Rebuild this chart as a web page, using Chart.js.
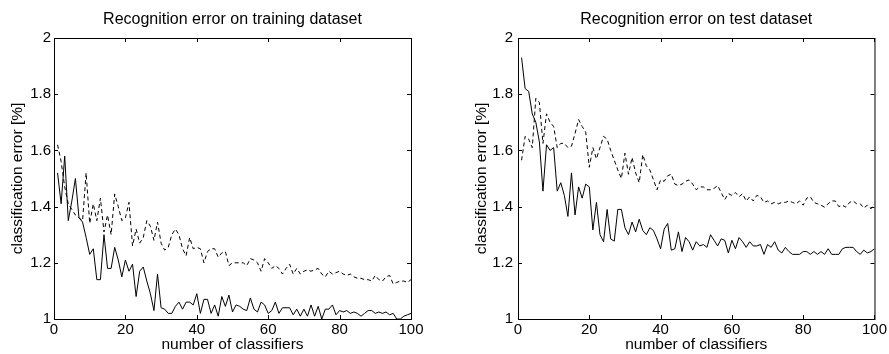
<!doctype html>
<html>
  <head>
    <title>Recognition error</title>
    <meta charset="UTF-8">
    <script src="https://cdn.jsdelivr.net/npm/chart.js@4"></script>
    <style>
      body { margin: 0; background: #fff; }
      #wrap { position: relative; width: 889px; height: 354px; }
      canvas { position: absolute; top: 0; }
      #train { left: 0; }
      #test { left: 444px; }
    </style>
  </head>
  <body>
    <div id="wrap">
      <canvas id="train" width="444" height="354"></canvas>
      <canvas id="test" width="445" height="354"></canvas>
    </div>
    <script>
      const classifiers = [
        1, 2, 3, 4, 5, 6, 7, 8, 9, 10,
        11, 12, 13, 14, 15, 16, 17, 18, 19, 20,
        21, 22, 23, 24, 25, 26, 27, 28, 29, 30,
        31, 32, 33, 34, 35, 36, 37, 38, 39, 40,
        41, 42, 43, 44, 45, 46, 47, 48, 49, 50,
        51, 52, 53, 54, 55, 56, 57, 58, 59, 60,
        61, 62, 63, 64, 65, 66, 67, 68, 69, 70,
        71, 72, 73, 74, 75, 76, 77, 78, 79, 80,
        81, 82, 83, 84, 85, 86, 87, 88, 89, 90,
        91, 92, 93, 94, 95, 96, 97, 98, 99, 100
      ];

      // training dataset
      const trainSolid = [
        1.52, 1.41, 1.58, 1.35, 1.42, 1.50, 1.36, 1.345, 1.29, 1.23,
        1.25, 1.14, 1.14, 1.30, 1.18, 1.18, 1.255, 1.21, 1.15, 1.21,
        1.17, 1.195, 1.08, 1.17, 1.185, 1.135, 1.09, 1.03, 1.16, 1.04,
        1.035, 1.02, 1.02, 1.045, 1.06, 1.035, 1.06, 1.06, 1.05, 1.09,
        1.02, 1.07, 1.07, 1.02, 1.05, 1.01, 1.08, 1.045, 1.085, 1.025,
        1.05, 1.045, 1.035, 1.03, 1.075, 1.035, 1.025, 1.06, 1.05, 1.02,
        1.03, 1.06, 1.02, 1.04, 1.04, 1.04, 1.015, 1.035, 1.01, 1.035,
        1.01, 1.05, 1.01, 1.045, 1.0, 1.035, 1.035, 1.05, 1.015, 1.03,
        1.025, 1.03, 1.02, 1.025, 1.02, 1.01, 1.02, 1.03, 1.03, 1.02,
        1.025, 1.02, 1.025, 1.015, 1.02, 1.0, 1.0, 1.01, 1.015, 1.02
      ];
      const trainDashed = [
        1.62, 1.56, 1.47, 1.41, 1.39, 1.37, 1.36, 1.35, 1.52, 1.34,
        1.41, 1.35, 1.43, 1.31, 1.37, 1.30, 1.445, 1.40, 1.35, 1.36,
        1.415, 1.26, 1.32, 1.27, 1.29, 1.35, 1.33, 1.28, 1.345, 1.27,
        1.245, 1.255, 1.30, 1.32, 1.30, 1.25, 1.225, 1.29, 1.25, 1.255,
        1.25, 1.20, 1.24, 1.25, 1.25, 1.22, 1.235, 1.24, 1.19, 1.20,
        1.20, 1.20, 1.20, 1.19, 1.215, 1.21, 1.20, 1.17, 1.215, 1.20,
        1.18, 1.19, 1.18, 1.16, 1.18, 1.195, 1.16, 1.18, 1.16, 1.17,
        1.175, 1.17, 1.175, 1.18, 1.16, 1.15, 1.17, 1.16, 1.165, 1.17,
        1.16, 1.155, 1.16, 1.15, 1.145, 1.145, 1.14, 1.14, 1.135, 1.155,
        1.14, 1.135, 1.15, 1.155, 1.125, 1.13, 1.135, 1.135, 1.13, 1.14
      ];

      // test dataset
      const testSolid = [
        1.93, 1.82, 1.81, 1.73, 1.70, 1.63, 1.455, 1.62, 1.60, 1.61,
        1.455, 1.485, 1.44, 1.365, 1.52, 1.37, 1.47, 1.43, 1.48, 1.47,
        1.317, 1.415, 1.30, 1.275, 1.39, 1.285, 1.277, 1.39, 1.39, 1.325,
        1.30, 1.345, 1.31, 1.355, 1.315, 1.30, 1.325, 1.315, 1.285, 1.25,
        1.32, 1.34, 1.245, 1.25, 1.31, 1.24, 1.29, 1.275, 1.245, 1.275,
        1.26, 1.265, 1.255, 1.30, 1.28, 1.26, 1.285, 1.28, 1.235, 1.28,
        1.25, 1.29, 1.275, 1.255, 1.275, 1.26, 1.26, 1.265, 1.23, 1.265,
        1.255, 1.275, 1.245, 1.235, 1.255, 1.24, 1.23, 1.23, 1.23, 1.24,
        1.24, 1.23, 1.24, 1.23, 1.24, 1.23, 1.25, 1.23, 1.23, 1.23,
        1.25, 1.255, 1.255, 1.255, 1.24, 1.23, 1.245, 1.235, 1.24, 1.25
      ];
      const testDashed = [
        1.565, 1.65, 1.64, 1.61, 1.785, 1.77, 1.625, 1.73, 1.70, 1.685,
        1.61, 1.625, 1.625, 1.61, 1.615, 1.66, 1.71, 1.685, 1.665, 1.54,
        1.61, 1.57, 1.61, 1.65, 1.64, 1.60, 1.565, 1.53, 1.50, 1.59,
        1.515, 1.575, 1.52, 1.485, 1.585, 1.545, 1.53, 1.495, 1.46, 1.495,
        1.49, 1.51, 1.515, 1.48, 1.475, 1.48, 1.49, 1.495, 1.48, 1.46,
        1.47, 1.47, 1.46, 1.46, 1.465, 1.475, 1.45, 1.425, 1.446, 1.44,
        1.45, 1.435, 1.446, 1.42, 1.435, 1.42, 1.44, 1.435, 1.415, 1.42,
        1.41, 1.415, 1.41, 1.415, 1.415, 1.42, 1.415, 1.41, 1.42, 1.405,
        1.43, 1.435, 1.415, 1.41, 1.405, 1.398, 1.41, 1.42, 1.42, 1.40,
        1.405, 1.398, 1.415, 1.42, 1.41, 1.41, 1.395, 1.405, 1.392, 1.41
      ];

      const xTickStep = 20;
      const yTickStep = 0.2;

      Chart.defaults.font.family = "'Liberation Sans', Arial, Helvetica, sans-serif";
      Chart.defaults.font.size = 15;
      Chart.defaults.color = '#000';

      // matlab style box with inward ticks on all four sides
      const boxTicks = {
        id: 'boxTicks',
        afterDatasetsDraw(chart) {
          const { ctx, chartArea: a, scales: { x, y } } = chart;
          const len = 4;
          ctx.save();
          ctx.strokeStyle = '#000';
          ctx.lineWidth = 1;
          ctx.beginPath();
          x.ticks.forEach(t => {
            const px = Math.round(x.getPixelForValue(t.value)) + 0.5;
            ctx.moveTo(px, a.bottom);
            ctx.lineTo(px, a.bottom - len);
            ctx.moveTo(px, a.top);
            ctx.lineTo(px, a.top + len);
          });
          y.ticks.forEach(t => {
            const py = Math.round(y.getPixelForValue(t.value)) + 0.5;
            ctx.moveTo(a.left, py);
            ctx.lineTo(a.left + len, py);
            ctx.moveTo(a.right, py);
            ctx.lineTo(a.right - len, py);
          });
          ctx.stroke();
          ctx.strokeRect(a.left + 0.5, a.top + 0.5, a.right - a.left, a.bottom - a.top);
          ctx.restore();
        }
      };

      function points(values) {
        return classifiers.map((c, i) => ({ x: c, y: values[i] }));
      }

      function renderErrorChart(id, title, solid, dashed, yWidth, rightPad, yTitlePad, yTickPad) {
        new Chart(document.getElementById(id), {
          type: 'line',
          data: {
            datasets: [
              {
                data: points(dashed),
                borderColor: '#000',
                borderWidth: 1,
                borderDash: [4, 3],
                pointRadius: 0,
                tension: 0
              },
              {
                data: points(solid),
                borderColor: '#000',
                borderWidth: 1,
                pointRadius: 0,
                tension: 0
              }
            ]
          },
          options: {
            responsive: false,
            animation: false,
            layout: { padding: { left: 0, right: rightPad, top: 0, bottom: 0 } },
            scales: {
              x: {
                type: 'linear',
                min: 0,
                max: 100,
                grid: { display: false, drawTicks: false },
                border: { display: false },
                ticks: { stepSize: xTickStep, padding: 2, maxRotation: 0 },
                title: {
                  display: true,
                  text: 'number of classifiers',
                  font: { size: 15.5 },
                  padding: { top: 0, bottom: 0 }
                },
                afterFit: s => { s.height = 35; }
              },
              y: {
                min: 1,
                max: 2,
                grid: { display: false, drawTicks: false },
                border: { display: false },
                ticks: {
                  stepSize: yTickStep,
                  padding: yTickPad,
                  callback: v => String(Number(v.toFixed(1)))
                },
                title: {
                  display: true,
                  text: 'classification error [%]',
                  font: { size: 15.5 },
                  padding: { top: yTitlePad, bottom: 0 }
                },
                afterFit: s => { s.width = yWidth; }
              }
            },
            plugins: {
              legend: { display: false },
              tooltip: { enabled: false },
              title: {
                display: true,
                text: title,
                fullSize: false,
                font: { size: 16, weight: 'normal' },
                padding: { top: 9.9, bottom: 8.9 }
              }
            }
          },
          plugins: [boxTicks]
        });
      }

      renderErrorChart('train', 'Recognition error on training dataset', trainSolid, trainDashed, 54, 33, 8, 3);
      renderErrorChart('test', 'Recognition error on test dataset', testSolid, testDashed, 74, 14, 28, 5);
    </script>
  </body>
</html>
